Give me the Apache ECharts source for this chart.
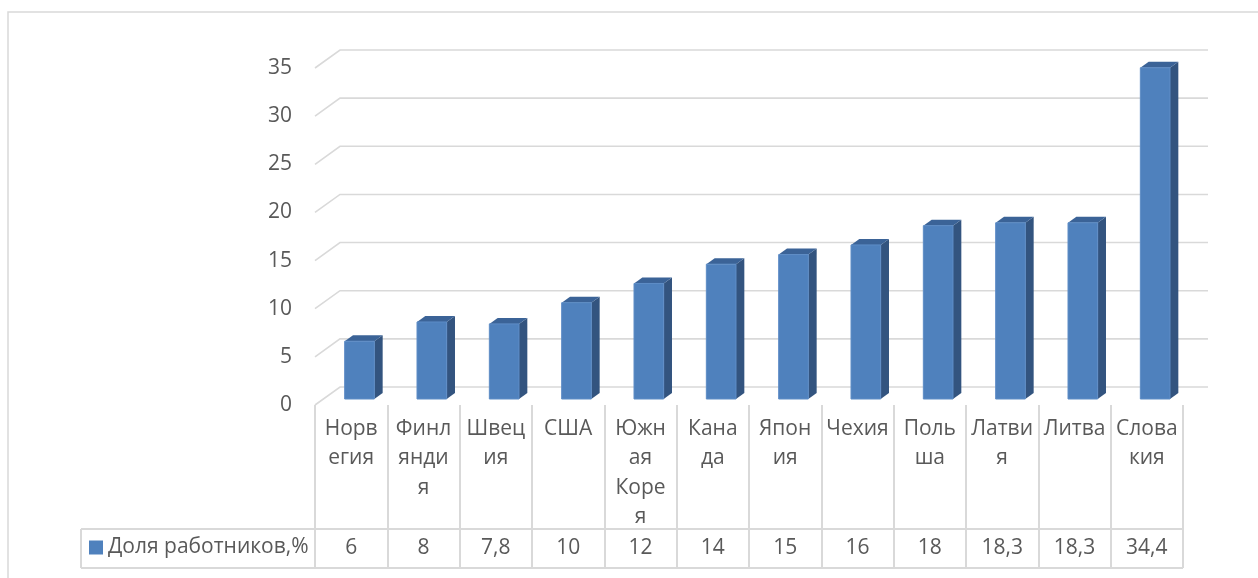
<!DOCTYPE html>
<html>
<head>
<meta charset="utf-8">
<script src="https://cdn.jsdelivr.net/npm/echarts@6/dist/echarts.min.js"></script>
<style>
html,body{margin:0;padding:0;background:#fff;}
#c{width:1258px;height:578px;}
</style>
</head>
<body>
<div id="c"></div>
<script>
// ---- data ----
const categories = ['Норвегия','Финляндия','Швеция','США','Южная Корея','Канада','Япония','Чехия','Польша','Латвия','Литва','Словакия'];
const categoryLabels = ['Норв\nегия','Финл\nянди\nя','Швец\nия','США','Южн\nая\nКоре\nя','Кана\nда','Япон\nия','Чехия','Поль\nша','Латви\nя','Литва','Слова\nкия'];
const values = [6, 8, 7.8, 10, 12, 14, 15, 16, 18, 18.3, 18.3, 34.4];
const seriesName = 'Доля работников,%';
const yTicks = [0, 5, 10, 15, 20, 25, 30, 35];

// ---- style ----
const FONT = '"Open Sans", Lato, sans-serif';
const FS = 21;
const TXT = '#595959';
const LINE = '#D9D9D9';
const FRONT = '#4F81BD', SIDE = '#33547F', TOP = '#3B6397';
const DX = 25, DY = -18;     // depth vector (front -> back wall)
const BAR_RATIO = 0.41;

const chart = echarts.init(document.getElementById('c'), null, {renderer:'canvas'});

function renderGrid(params, api){
  const cs = params.coordSys;
  const p = api.coord([0, api.value(1)]);
  const x0 = cs.x, x1 = cs.x + cs.width;
  return {
    type:'polyline', silent:true,
    shape:{points:[[x0, p[1]], [x0+DX, p[1]+DY], [x1+DX, p[1]+DY]]},
    style:{stroke:LINE, lineWidth:1.6, fill:null}
  };
}

function renderBar(params, api){
  const i = api.value(0), v = api.value(1);
  const base = api.coord([i, 0]);
  const top = api.coord([i, v]);
  const bw = api.size([1, 0])[0] * BAR_RATIO;
  const ddx = DX/3, ddy = DY/3;
  const fx = base[0] - bw/2 + ddx;
  const fy0 = base[1] + ddy, fy1 = top[1] + ddy;
  return {
    type:'group',
    children:[
      {type:'polygon', shape:{points:[[fx+bw,fy1],[fx+bw+ddx,fy1+ddy],[fx+bw+ddx,fy0+ddy],[fx+bw,fy0]]}, style:{fill:SIDE}},
      {type:'polygon', shape:{points:[[fx,fy1],[fx+ddx,fy1+ddy],[fx+bw+ddx,fy1+ddy],[fx+bw,fy1]]}, style:{fill:TOP}},
      {type:'rect', shape:{x:fx, y:fy1, width:bw, height:fy0-fy1}, style:{fill:FRONT, stroke:'#5E8DC6', lineWidth:1}}
    ]
  };
}

const option = {
  animation:false,
  textStyle:{fontFamily:FONT},
  grid:{left:315, right:75, top:68, bottom:173},
  legend:{
    data:[seriesName], left:89, top:537, padding:0, icon:'rect', itemWidth:14, itemHeight:14,
    textStyle:{fontFamily:FONT, fontSize:FS, color:TXT}, selectedMode:false
  },
  xAxis:[{
    type:'category', data:categories, position:'bottom',
    axisLine:{show:false},
    axisTick:{show:true, interval:0, length:163, lineStyle:{color:LINE, width:2}},
    axisLabel:{
      interval:0, margin:9, fontFamily:FONT, fontSize:FS, color:TXT, lineHeight:29.5,
      formatter:(val, idx) => categoryLabels[idx]
    }
  },{
    type:'category', data:categories, position:'bottom', offset:124,
    axisLine:{show:false}, axisTick:{show:false},
    axisLabel:{
      interval:0, margin:8, fontFamily:FONT, fontSize:FS, color:TXT, lineHeight:22,
      formatter:(val, idx) => String(values[idx]).replace('.', ',')
    }
  }],
  yAxis:{
    type:'value', min:0, max:35, interval:5,
    axisLine:{show:false}, axisTick:{show:false}, splitLine:{show:false},
    axisLabel:{margin:23, fontFamily:FONT, fontSize:FS, color:TXT}
  },
  graphic:[
    {type:'rect', shape:{x:8, y:12, width:1300, height:700}, style:{fill:null, stroke:LINE, lineWidth:1.5}, silent:true},
    {type:'line', shape:{x1:81, y1:529, x2:1183, y2:529}, style:{stroke:LINE, lineWidth:2}, silent:true},
    {type:'line', shape:{x1:81, y1:568, x2:1183, y2:568}, style:{stroke:LINE, lineWidth:2}, silent:true},
    {type:'line', shape:{x1:81, y1:529, x2:81, y2:568}, style:{stroke:LINE, lineWidth:2}, silent:true}
  ],
  series:[{
    type:'custom', name:'grid', silent:true, z:1,
    renderItem:renderGrid,
    data:yTicks.map(t => [0, t])
  },{
    type:'custom', name:seriesName, z:3,
    itemStyle:{color:FRONT},
    renderItem:renderBar,
    data:values.map((v, i) => [i, v])
  }]
};
chart.setOption(option);
</script>
</body>
</html>
